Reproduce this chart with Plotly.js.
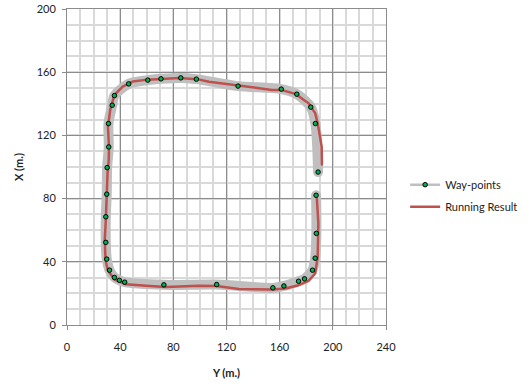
<!DOCTYPE html>
<html>
<head>
<meta charset="utf-8">
<script src="https://cdn.plot.ly/plotly-3.0.1.min.js"></script>
<style>html,body{margin:0;padding:0;background:#fff;}#chart{width:532px;height:386px;}</style>
</head>
<body>
<div id="chart"></div>
<script>
// Way-points (horizontal axis = Y, vertical axis = X)
var wayY = [187.4, 187.6, 186.7, 184.7, 178.7, 174.2, 163.2, 154.9, 112.6, 72.9, 43.4, 39.4, 35.7, 32.0, 29.9, 29.2, 29.2, 29.9, 30.2, 31.4, 31.2, 34.0, 35.7, 46.4, 60.8, 70.7, 85.6, 97.3, 128.7, 161.2, 172.9, 183.4, 186.9, 188.9];
var wayX = [82.1, 58.0, 42.3, 34.7, 29.2, 27.7, 24.7, 23.5, 25.6, 25.4, 27.1, 28.3, 30.1, 34.7, 41.7, 52.3, 68.5, 82.8, 99.6, 112.7, 127.5, 139.1, 145.2, 152.6, 155.0, 155.8, 156.4, 155.6, 151.2, 149.3, 146.1, 137.9, 127.5, 96.8];

// Running result
var runY = [187.9, 189.1, 188.6, 186.7, 181.7, 174.2, 164.2, 154.2, 129.3, 112.6, 99.3, 74.4, 59.4, 44.5, 35.7, 30.7, 29.0, 28.4, 29.2, 29.9, 30.5, 31.4, 31.6, 30.8, 32.5, 35.7, 41.9, 49.4, 60.6, 84.4, 97.8, 106.8, 129.3, 154.2, 161.2, 171.7, 181.7, 186.7, 188.6, 190.4, 191.6, 191.8];
var runX = [81.2, 64.3, 43.1, 32.6, 27.9, 25.2, 23.1, 22.4, 22.8, 24.7, 24.9, 24.1, 24.9, 25.8, 28.8, 34.7, 41.0, 53.7, 66.4, 83.3, 96.0, 104.4, 112.7, 125.4, 136.1, 145.7, 150.9, 154.1, 155.3, 156.4, 155.6, 153.9, 151.6, 148.8, 148.8, 146.3, 140.4, 134.1, 127.7, 119.2, 112.9, 101.6];

var xTickVals = [0, 40, 80, 120, 160, 200, 240];
var yTickVals = [0, 40, 80, 120, 160, 200];
var seriesNames = ['Way-points', 'Running Result'];

var FONT = 'Lato, "Open Sans", sans-serif';
var GRAY = '#bfbfbf', GREEN = '#00b050', RED = '#c0504d';

var traces = [
  {x: wayY, y: wayX, mode: 'lines', line: {color: GRAY, width: 10, shape: 'spline', smoothing: 0.8},
   showlegend: false, hoverinfo: 'skip'},
  {x: runY, y: runX, mode: 'lines', line: {color: RED, width: 2.5},
   name: seriesNames[1], legendgroup: 'b', showlegend: false},
  {x: wayY, y: wayX, mode: 'markers', marker: {color: GREEN, size: 4.5, line: {color: '#000', width: 1}},
   showlegend: false},
  // legend entries
  {x: [null], y: [null], mode: 'lines+markers', name: seriesNames[0], legendgroup: 'a',
   line: {color: GRAY, width: 2.5}, marker: {color: GREEN, size: 4.5, line: {color: '#000', width: 1}}},
  {x: [null], y: [null], mode: 'lines', name: seriesNames[1], legendgroup: 'b',
   line: {color: RED, width: 2.5}}
];

var axisCommon = {
  showgrid: true, gridcolor: '#8c8c8c', gridwidth: 1,
  zeroline: false, showline: true, mirror: true, linecolor: '#8c8c8c', linewidth: 1,
  ticks: 'outside', ticklen: 4, tickcolor: '#8c8c8c',
  tickfont: {family: FONT, size: 11, color: '#222'},
  minor: {dtick: 10, showgrid: true, gridcolor: '#d9d9d9', gridwidth: 2, ticks: ''},
  fixedrange: true
};

var layout = {
  width: 532, height: 386,
  margin: {l: 67, r: 144, t: 9, b: 61},
  paper_bgcolor: '#fff', plot_bgcolor: '#fff',
  font: {family: FONT, size: 11, color: '#222'},
  xaxis: Object.assign({}, axisCommon, {
    range: [0, 240], tickvals: xTickVals, ticktext: xTickVals.map(String), ticklabelstandoff: 8,
    title: {text: '<b>Y (m.)</b>', font: {family: FONT, size: 11, color: '#222'}, standoff: 17}
  }),
  yaxis: Object.assign({}, axisCommon, {
    range: [0, 200], tickvals: yTickVals, ticktext: yTickVals.map(String), ticklabelstandoff: 4,
    title: {text: '<b>X (m.)</b>', font: {family: FONT, size: 11, color: '#222'}, standoff: 10}
  }),
  legend: {x: 1.06, xanchor: 'left', y: 0.49, yanchor: 'top', bgcolor: 'rgba(0,0,0,0)',
    font: {family: FONT, size: 11, color: '#222'}, traceorder: 'grouped', tracegroupgap: 3},
  showlegend: true
};

Plotly.newPlot('chart', traces, layout, {displayModeBar: false, staticPlot: true}).then(function(){
  var paths = document.querySelectorAll('.scatterlayer .trace path.js-line');
  paths.forEach(function(p){ p.style.strokeLinecap = 'round'; p.style.strokeLinejoin = 'round'; });
});
</script>
</body>
</html>
